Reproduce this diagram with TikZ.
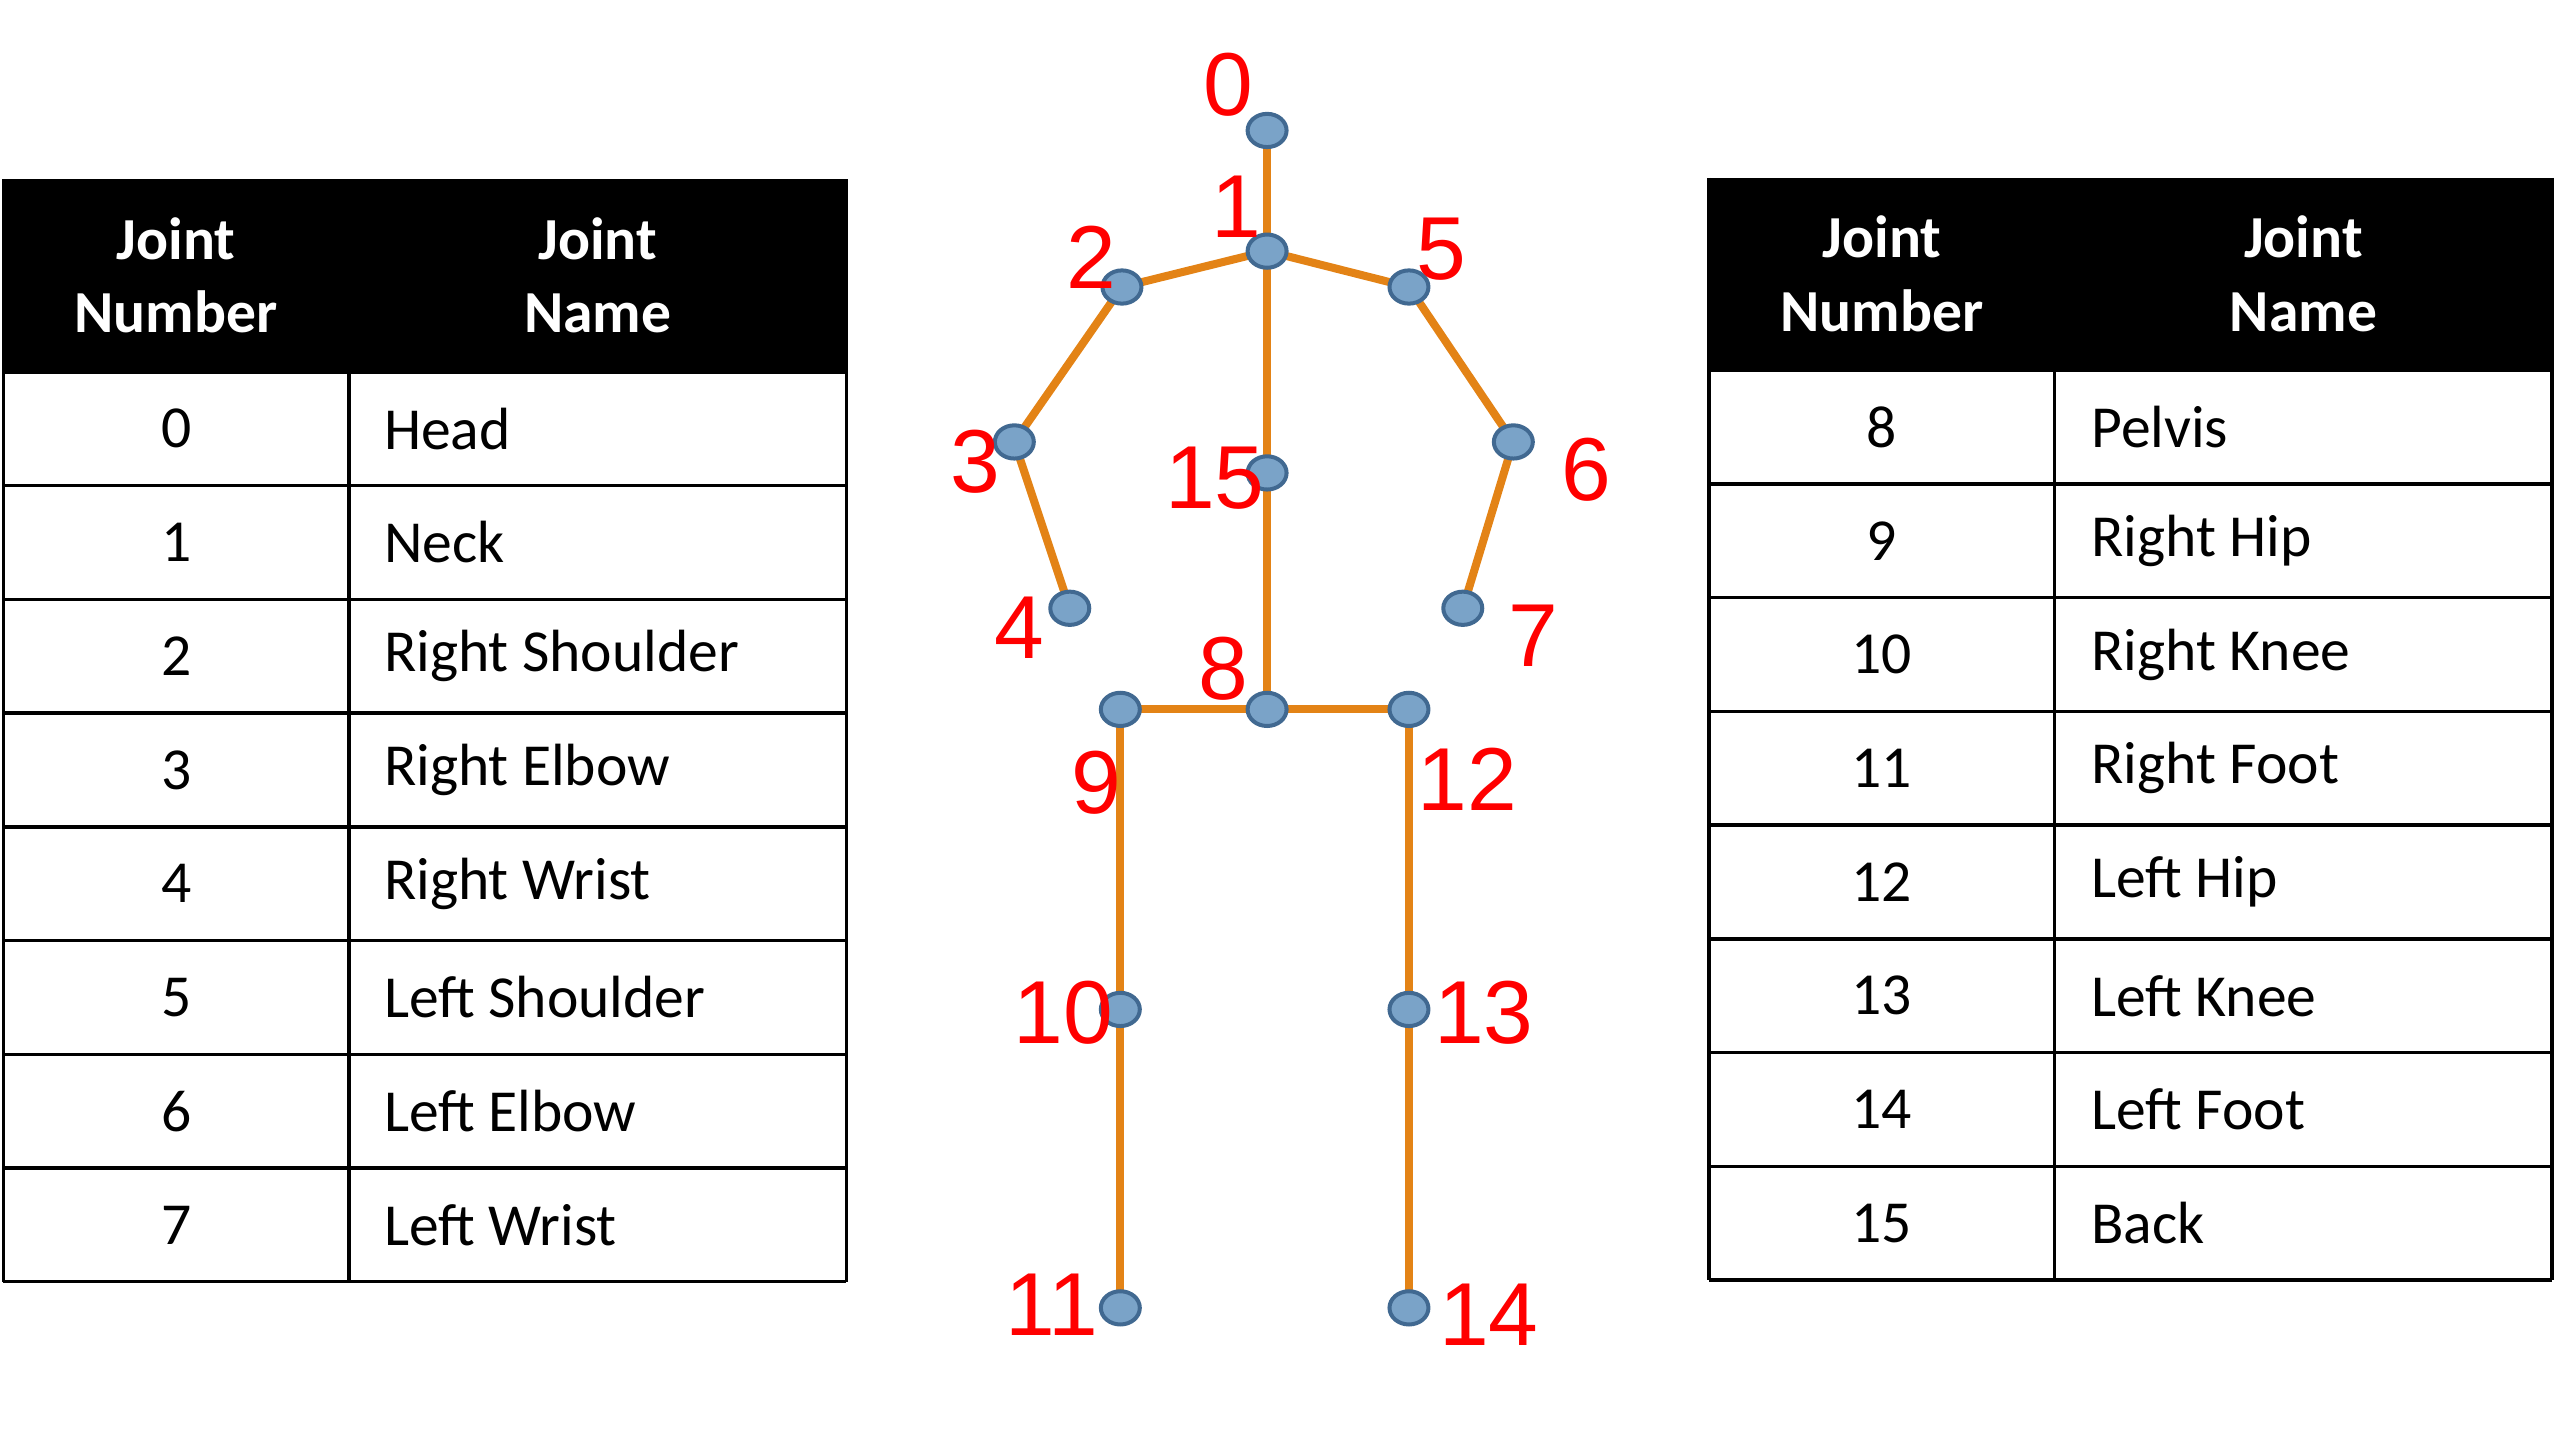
\documentclass[tikz,border=0pt]{standalone}
\usepackage{fontspec}
\setmainfont{Carlito}
\newfontfamily\numfont{Liberation Sans}
\usetikzlibrary{shapes.geometric}
\definecolor{bone}{RGB}{227,131,22}
\definecolor{jfill}{RGB}{122,163,200}
\definecolor{jdraw}{RGB}{65,105,145}
\definecolor{lab}{RGB}{255,0,0}
\tikzset{
 joint/.style={ellipse,minimum width=34pt,minimum height=29pt,inner sep=0,fill=jfill,draw=jdraw,line width=3.5pt},
 bonel/.style={draw=bone,line width=7pt},
 jlab/.style={text=lab,font=\numfont\fontsize{78}{80}\selectfont,inner sep=0},
 cell/.style={font=\fontsize{52}{56}\selectfont},
 hcell/.style={font=\bfseries\fontsize{52}{64}\selectfont,text=white,align=center},
 grid/.style={line width=3pt}
}
\begin{document}
\begin{tikzpicture}[x=0.05cm,y=-0.05cm]
\useasboundingbox (0,0) rectangle (1568,884);
% tables
\foreach \xo/\xd/\xe/\yt/\first in {2/214/519/110/0,1048/1260/1565/109/8}{
  \fill (\xo,\yt) rectangle (\xe,\yt+118);
  \node[hcell] (h1\first) at ({(\xo+\xd)/2},\yt+59) {Joint\\Number};
  \node[hcell] (h2\first) at ({(\xd+\xe)/2},\yt+59) {Joint\\Name};
  \foreach \i in {0,...,8}{
    \draw[grid] (\xo,\yt+118+\i*69.75) -- (\xe,\yt+118+\i*69.75);
  }
  \draw[grid] (\xo,\yt) -- (\xo,\yt+676);
  \draw[grid] (\xe,\yt) -- (\xe,\yt+676);
  \draw[grid] (\xd,\yt+118) -- (\xd,\yt+676);
}
\foreach \n/\t [count=\k from 0] in {0/Head,1/Neck,2/Right Shoulder,3/Right Elbow,4/Right Wrist,5/Left Shoulder,6/Left Elbow,7/Left Wrist}{
  \node[cell] (ln\k) at (108,{228+34.9+\k*69.75}) {\n};
  \node[cell,anchor=west] (lt\k) at (233,{228+34.9+\k*69.75}) {\t};
}
\foreach \n/\t [count=\k from 0] in {8/Pelvis,9/Right Hip,10/Right Knee,11/Right Foot,12/Left Hip,13/Left Knee,14/Left Foot,15/Back}{
  \node[cell] (rn\k) at (1154,{227+34.9+\k*69.75}) {\n};
  \node[cell,anchor=west] (rt\k) at (1280,{227+34.9+\k*69.75}) {\t};
}
% skeleton
\coordinate (p0) at (777,80);
\coordinate (p1) at (777,154);
\coordinate (p2) at (688,176);
\coordinate (p5) at (864,176);
\coordinate (p3) at (622,271);
\coordinate (p6) at (928,271);
\coordinate (p4) at (656,373);
\coordinate (p7) at (897,373);
\coordinate (p15) at (777,290);
\coordinate (p8) at (777,435);
\coordinate (p9) at (687,435);
\coordinate (p12) at (864,435);
\coordinate (p10) at (687,619);
\coordinate (p13) at (864,619);
\coordinate (p11) at (687,802);
\coordinate (p14) at (864,802);
\foreach \a/\b in {0/1,1/2,2/3,3/4,1/5,5/6,6/7,1/15,15/8,8/9,8/12,9/10,10/11,12/13,13/14}
  \draw[bonel] (p\a) -- (p\b);
\foreach \j in {0,...,15}
  \node[joint] (j\j) at (p\j) {};
\foreach \j/\x/\y in {0/753/52,1/758/127,2/669/158,5/884/153,3/598/283,6/973/288,4/625/385,7/940/390,15/745/293,8/750/410,9/672/480,12/900/478,10/652/621,13/910/621,11/645/800,14/913/806}
  \node[jlab] (l\j) at (\x,\y) {\j};
\end{tikzpicture}
\end{document}
